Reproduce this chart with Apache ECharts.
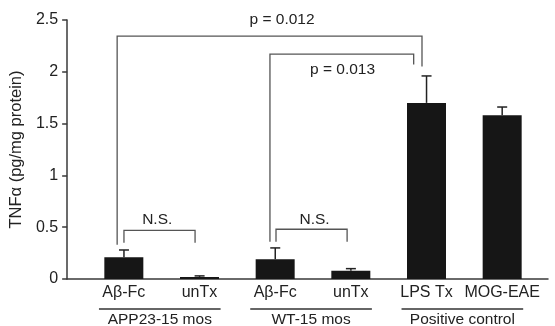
<!DOCTYPE html>
<html>
<head>
<meta charset="utf-8">
<script src="https://cdn.jsdelivr.net/npm/echarts@6/dist/echarts.min.js"></script>
<style>html,body{margin:0;padding:0;background:#fff}#c{width:555px;height:326px}</style>
</head>
<body>
<div id="c"></div>
<script>
// ---- data ----
const categories = ['Aβ-Fc', 'unTx', 'Aβ-Fc', 'unTx', 'LPS Tx', 'MOG-EAE'];
const means = [0.21, 0.02, 0.19, 0.08, 1.70, 1.58];
const errorTops = [0.28, 0.03, 0.30, 0.10, 1.96, 1.66];
const groupNames = ['APP23-15 mos', 'WT-15 mos', 'Positive control'];
const groupFirst = [0, 2, 4];
const groupLast = [1, 3, 5];
const yAxisTitle = 'TNFα (pg/mg protein)';
const yMin = 0, yMax = 2.5, yStep = 0.5;
// significance annotations (category-index units / value units)
const sigLabels = ['p = 0.012', 'p = 0.013', 'N.S.', 'N.S.'];
const sigLeft = [-0.09, 1.93, 0.0, 2.01];
const sigRight = [3.94, 3.83, 0.94, 2.95];
const sigTop = [2.345, 2.17, 0.47, 0.48];
const sigLeftBottom = [0.33, 0.36, 0.35, 0.36];
const sigRightBottom = [2.05, 2.07, 0.35, 0.36];
const sigTextX = [2.09, 2.89, 0.44, 2.52];
const sigTextY = [2.5, 2.02, 0.57, 0.57];

// ---- layout ----
const W = 555, H = 326;
const axisLeft = 67, axisRight = 548, plotTop = 20, plotBottom = 47;
const catLeft = 86, catRight = 540;
const band = (catRight - catLeft) / categories.length;
const xMin = (axisLeft - catLeft) / band - 0.5;
const xMax = (axisRight - catLeft) / band - 0.5;
const FONT = 'Liberation Sans, Arial, Helvetica, sans-serif';
const TXT = '#222';
const AX = '#3a3a3a';

const chart = echarts.init(document.getElementById('c'), null, {renderer: 'canvas'});

const option = {
  backgroundColor: '#fff',
  animation: false,
  textStyle: {fontFamily: FONT},
  grid: [
    {left: axisLeft, right: W - axisRight, top: plotTop, bottom: plotBottom},
    {left: catLeft, right: W - catRight, top: plotTop, bottom: plotBottom}
  ],
  xAxis: [
    {gridIndex: 0, type: 'value', min: xMin, max: xMax,
     axisLine: {show: true, onZero: false, lineStyle: {color: AX, width: 1.5}},
     axisTick: {show: false}, axisLabel: {show: false}, splitLine: {show: false}},
    {gridIndex: 1, type: 'category', data: categories,
     axisLine: {show: false}, axisTick: {show: false}, splitLine: {show: false},
     axisLabel: {color: TXT, fontSize: 16, fontFamily: FONT, margin: 6, interval: 0}}
  ],
  yAxis: [
    {gridIndex: 0, type: 'value', min: yMin, max: yMax, interval: yStep,
     name: yAxisTitle, nameLocation: 'middle', nameGap: 38, nameRotate: 90,
     nameTextStyle: {color: TXT, fontSize: 16.5, fontFamily: FONT},
     axisLine: {show: true, onZero: false, lineStyle: {color: AX, width: 1.5}},
     axisTick: {show: true, length: 5, lineStyle: {color: AX, width: 1.5}},
     axisLabel: {color: TXT, fontSize: 16, fontFamily: FONT, margin: 9},
     splitLine: {show: false}},
    {gridIndex: 1, type: 'value', min: yMin, max: yMax, interval: yStep, show: false}
  ],
  series: [
    {type: 'bar', xAxisIndex: 1, yAxisIndex: 1, data: means, barWidth: 39,
     itemStyle: {color: '#161616'}, z: 2},
    {type: 'custom', xAxisIndex: 0, yAxisIndex: 0, clip: false, z: 3,
     data: means.map((m, i) => [i, m, errorTops[i]]),
     renderItem: function (params, api) {
       const i = api.value(0);
       const b = api.coord([i, api.value(1)]);
       const t = api.coord([i, api.value(2)]);
       const st = {stroke: '#222', lineWidth: 1.5};
       return {type: 'group', children: [
         {type: 'line', shape: {x1: b[0], y1: b[1], x2: t[0], y2: t[1]}, style: st},
         {type: 'line', shape: {x1: t[0] - 5, y1: t[1], x2: t[0] + 5, y2: t[1]}, style: st}
       ]};
     }},
    {type: 'custom', xAxisIndex: 0, yAxisIndex: 0, clip: false, z: 4,
     data: groupNames.map((g, k) => [groupFirst[k], groupLast[k], k]),
     renderItem: function (params, api) {
       const a = api.coord([api.value(0), 0]);
       const b = api.coord([api.value(1), 0]);
       const k = api.value(2);
       const y = a[1] + 30;
       return {type: 'group', children: [
         {type: 'line', shape: {x1: a[0] - 25, y1: y, x2: b[0] + 21, y2: y},
          style: {stroke: '#333', lineWidth: 1.5}},
         {type: 'text', x: (a[0] - 25 + b[0] + 21) / 2, y: y + 11,
          style: {text: groupNames[k], fill: TXT, font: '15.5px ' + FONT,
                  align: 'center', verticalAlign: 'middle'}}
       ]};
     }},
    {type: 'custom', xAxisIndex: 0, yAxisIndex: 0, clip: false, z: 5,
     data: sigLabels.map((s, k) => [sigLeft[k], sigRight[k], sigTop[k], sigLeftBottom[k], sigRightBottom[k], sigTextX[k], sigTextY[k], k]),
     renderItem: function (params, api) {
       const lt = api.coord([api.value(0), api.value(2)]);
       const rt = api.coord([api.value(1), api.value(2)]);
       const lb = api.coord([api.value(0), api.value(3)]);
       const rb = api.coord([api.value(1), api.value(4)]);
       const tp = api.coord([api.value(5), api.value(6)]);
       const k = api.value(7);
       return {type: 'group', children: [
         {type: 'polyline', shape: {points: [lb, lt, rt, rb]},
          style: {stroke: '#555', lineWidth: 1.3, fill: null}},
         {type: 'text', x: tp[0], y: tp[1],
          style: {text: sigLabels[k], fill: TXT, font: '15.5px ' + FONT,
                  align: 'center', verticalAlign: 'middle'}}
       ]};
     }}
  ]
};
chart.setOption(option);
</script>
</body>
</html>
